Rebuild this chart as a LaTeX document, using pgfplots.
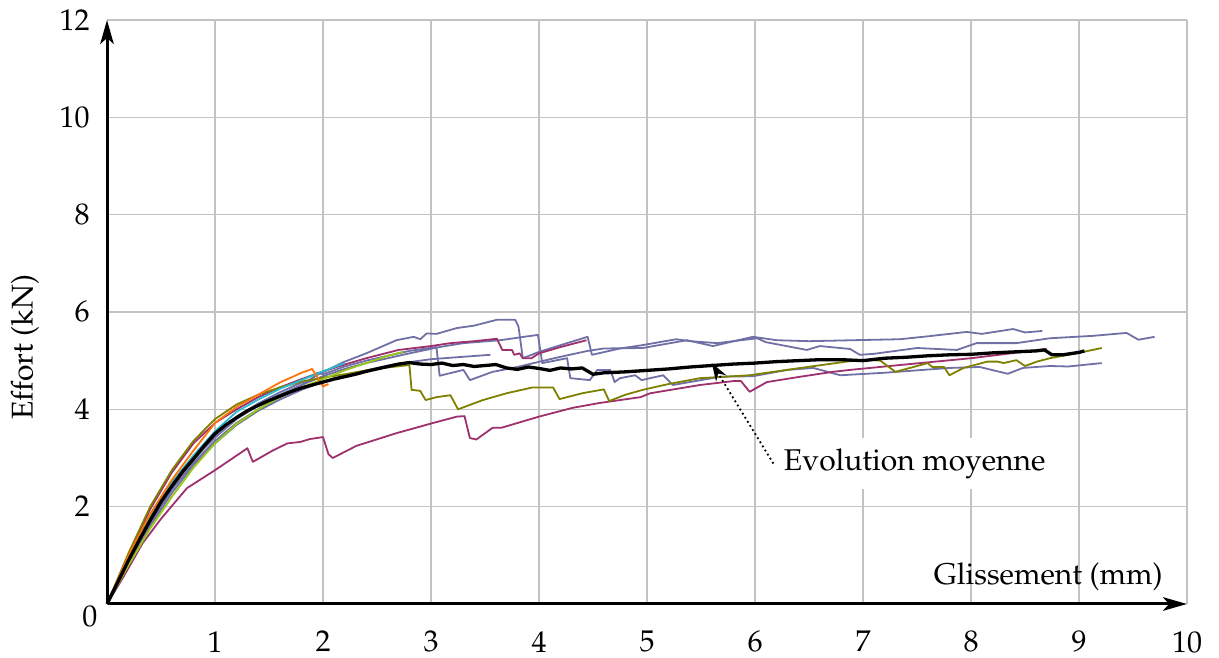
\documentclass[border=0pt]{standalone}
\usepackage[T1]{fontenc}
\usepackage{mathpazo}
\usepackage{pgfplots}
\pgfplotsset{compat=1.18}
\usetikzlibrary{arrows.meta}
\definecolor{cblue}{RGB}{112,112,166}
\definecolor{cmag}{RGB}{158,48,108}
\definecolor{colive}{RGB}{128,128,0}
\definecolor{corange}{RGB}{255,115,10}
\definecolor{ccyan}{RGB}{40,190,205}
\definecolor{cygreen}{RGB}{150,200,20}
\definecolor{cgrid}{RGB}{195,195,195}
\begin{document}
\begin{tikzpicture}
\begin{axis}[
  scale only axis, width=360pt, height=194.67pt,
  xmin=0, xmax=10, ymin=0, ymax=12,
  axis lines*=left,
  axis line style={line width=1pt, -{Stealth[length=8pt,width=4.5pt,inset=2pt]}},
  xtick={1,...,10}, ytick={2,4,...,12},
  major tick length=0pt,
  grid=major, grid style={cgrid, line width=0.4pt},
  xticklabel style={yshift=-5.5pt},
  yticklabel style={xshift=-2.3pt},
  xlabel={Glissement (mm)},
  xlabel style={at={(axis description cs:0.978,0.033)}, anchor=base east, inner sep=0pt},
  ylabel={Effort (kN)},
  ylabel style={at={(axis description cs:-0.076,0.44)}, rotate=0, anchor=center},
  clip=false,
  every axis plot/.append style={line width=0.6pt, line join=round},
]
% blue curves
\addplot[cblue] coordinates {(0,0)(0.2,0.85)(0.4,1.65)(0.6,2.35)(0.8,2.9)(1.0,3.35)(1.2,3.72)(1.4,4.0)(1.6,4.25)(1.8,4.5)(1.94,4.7)(2.19,4.97)(2.4,5.15)(2.68,5.42)(2.84,5.49)(2.9,5.44)(2.96,5.56)(3.05,5.55)(3.24,5.67)(3.4,5.72)(3.61,5.84)(3.78,5.84)(3.81,5.7)(3.85,5.05)(4.0,5.18)(4.26,5.36)(4.45,5.49)(4.49,5.12)(4.75,5.25)(4.96,5.32)(5.27,5.44)(5.4,5.4)(5.65,5.36)(6.02,5.46)(6.1,5.38)(6.48,5.22)(6.6,5.3)(6.88,5.24)(6.97,5.12)(7.1,5.14)(7.5,5.26)(7.87,5.22)(8.05,5.36)(8.42,5.36)(8.73,5.46)(9.13,5.51)(9.44,5.57)(9.55,5.43)(9.7,5.49)};
\addplot[cblue] coordinates {(0,0)(0.2,0.88)(0.4,1.7)(0.6,2.4)(0.8,2.97)(1.0,3.42)(1.2,3.8)(1.4,4.08)(1.6,4.3)(1.8,4.5)(2.0,4.68)(2.2,4.83)(2.4,4.95)(2.6,5.05)(2.8,5.15)(3.08,5.28)(3.3,5.36)(3.64,5.42)(3.99,5.53)(4.03,4.95)(4.26,5.05)(4.29,4.64)(4.47,4.6)(4.54,4.81)(4.66,4.81)(4.7,4.56)(4.75,4.64)(4.89,4.7)(4.95,4.6)(5.15,4.7)(5.24,4.5)(5.68,4.67)(5.98,4.68)(6.3,4.81)(6.54,4.85)(6.79,4.7)(7.19,4.75)(7.8,4.85)(8.08,4.87)(8.34,4.73)(8.48,4.85)(8.73,4.89)(8.9,4.88)(9.21,4.95)};
\addplot[cblue] coordinates {(0,0)(0.2,0.9)(0.4,1.75)(0.6,2.45)(0.8,3.02)(1.0,3.48)(1.2,3.85)(1.4,4.12)(1.6,4.35)(1.8,4.55)(1.9,4.62)(1.95,4.75)(2.0,4.72)(2.2,4.88)(2.4,5.0)(2.6,5.1)(2.8,5.2)(3.05,5.28)(3.08,4.69)(3.3,4.81)(3.36,4.6)(3.57,4.77)(3.8,4.87)(3.95,4.95)(4.2,5.08)(4.45,5.2)(4.6,5.25)(4.96,5.26)(5.37,5.42)(5.61,5.3)(5.98,5.49)(6.2,5.42)(6.5,5.4)(6.91,5.42)(7.34,5.44)(7.6,5.5)(7.96,5.59)(8.1,5.55)(8.39,5.65)(8.5,5.58)(8.66,5.61)};
\addplot[cblue] coordinates {(0,0)(0.2,0.82)(0.4,1.6)(0.6,2.28)(0.8,2.85)(1.0,3.3)(1.2,3.68)(1.4,3.97)(1.6,4.2)(1.8,4.4)(2.0,4.57)(2.2,4.7)(2.4,4.8)(2.6,4.9)(2.8,4.97)(3.0,5.03)(3.3,5.08)(3.55,5.12)};
% magenta curves
\addplot[cmag] coordinates {(0,0)(0.2,1.0)(0.4,1.95)(0.6,2.7)(0.8,3.3)(1.0,3.72)(1.2,4.0)(1.4,4.25)(1.6,4.45)(1.8,4.62)(2.0,4.78)(2.2,4.92)(2.4,5.05)(2.7,5.22)(3.0,5.3)(3.18,5.36)(3.4,5.4)(3.61,5.45)(3.66,5.22)(3.75,5.22)(3.77,5.12)(3.82,5.15)(3.85,5.05)(3.93,5.05)(4.0,5.15)(4.2,5.28)(4.44,5.42)};
\addplot[cmag] coordinates {(0,0)(0.15,0.55)(0.33,1.25)(0.5,1.75)(0.74,2.38)(1.0,2.75)(1.3,3.2)(1.35,2.92)(1.54,3.16)(1.67,3.3)(1.79,3.33)(1.88,3.39)(2.0,3.43)(2.05,3.08)(2.09,3.0)(2.31,3.25)(2.68,3.51)(3.02,3.72)(3.24,3.85)(3.31,3.86)(3.36,3.41)(3.42,3.38)(3.57,3.62)(3.65,3.62)(4.0,3.85)(4.31,4.03)(4.56,4.13)(4.94,4.25)(5.03,4.33)(5.49,4.5)(5.8,4.58)(5.87,4.58)(5.95,4.36)(6.11,4.56)(6.42,4.67)(6.72,4.77)(6.88,4.81)(7.34,4.91)(8.0,5.05)(8.7,5.24)};
% olive
\addplot[colive] coordinates {(0,0)(0.2,1.05)(0.4,2.0)(0.6,2.75)(0.8,3.35)(1.0,3.8)(1.2,4.1)(1.4,4.3)(1.6,4.45)(1.8,4.57)(2.0,4.65)(2.2,4.72)(2.4,4.8)(2.6,4.86)(2.8,4.91)(2.82,4.4)(2.9,4.38)(2.95,4.19)(3.05,4.25)(3.18,4.29)(3.25,4.0)(3.48,4.19)(3.7,4.33)(3.94,4.45)(4.13,4.45)(4.19,4.21)(4.4,4.33)(4.6,4.41)(4.65,4.17)(4.8,4.3)(4.96,4.4)(5.2,4.52)(5.49,4.64)(5.95,4.7)(6.42,4.85)(6.88,4.99)(7.09,5.01)(7.16,5.0)(7.3,4.77)(7.6,4.95)(7.64,4.87)(7.75,4.87)(7.8,4.7)(7.93,4.85)(8.15,4.98)(8.25,4.98)(8.3,4.95)(8.42,5.01)(8.5,4.89)(8.61,4.98)(8.73,5.05)(9.04,5.18)(9.21,5.26)};
% yellow-green
\addplot[cygreen] coordinates {(0,0)(0.2,0.8)(0.4,1.55)(0.6,2.2)(0.8,2.8)(1.0,3.3)(1.2,3.7)(1.4,4.0)(1.6,4.25)(1.8,4.45)(2.0,4.62)(2.2,4.8)(2.4,4.95)(2.6,5.1)(2.74,5.18)};
% cyan
\addplot[ccyan] coordinates {(0,0)(0.2,0.95)(0.4,1.8)(0.6,2.5)(0.8,3.05)(1.0,3.55)(1.2,3.95)(1.4,4.2)(1.6,4.42)(1.8,4.6)(2.0,4.78)(2.2,4.95)};
% orange
\addplot[corange] coordinates {(0,0)(0.2,1.0)(0.4,1.85)(0.6,2.55)(0.8,3.15)(1.0,3.72)(1.2,4.05)(1.4,4.3)(1.6,4.55)(1.8,4.75)(1.9,4.83)(1.95,4.65)(2.0,4.47)(2.05,4.52)};
% mean
\addplot[black, line width=1.1pt] coordinates {(0,0)(0.1,0.45)(0.2,0.9)(0.3,1.32)(0.4,1.72)(0.5,2.1)(0.6,2.42)(0.7,2.72)(0.8,2.98)(0.9,3.25)(1.0,3.5)(1.1,3.68)(1.2,3.83)(1.3,3.97)(1.4,4.08)(1.5,4.18)(1.6,4.27)(1.7,4.36)(1.8,4.44)(1.9,4.5)(2.0,4.56)(2.1,4.62)(2.2,4.67)(2.3,4.72)(2.4,4.78)(2.5,4.83)(2.6,4.88)(2.7,4.93)(2.8,4.96)(2.9,4.93)(3.0,4.92)(3.1,4.95)(3.2,4.9)(3.3,4.92)(3.4,4.88)(3.5,4.9)(3.6,4.92)(3.7,4.85)(3.8,4.82)(3.9,4.87)(4.0,4.84)(4.1,4.8)(4.2,4.85)(4.3,4.83)(4.4,4.85)(4.5,4.72)(4.6,4.75)(4.8,4.77)(5.0,4.8)(5.2,4.83)(5.4,4.87)(5.6,4.9)(5.8,4.93)(6.0,4.95)(6.2,4.98)(6.4,5.0)(6.6,5.02)(6.8,5.02)(7.0,5.0)(7.2,5.05)(7.4,5.07)(7.6,5.1)(7.8,5.12)(8.0,5.13)(8.2,5.16)(8.4,5.18)(8.6,5.2)(8.68,5.22)(8.75,5.12)(8.85,5.12)(9.0,5.17)(9.05,5.2)};
\node[fill=white, anchor=base west, inner sep=0.333em] (ev) at (axis cs:6.17,2.75) {Evolution moyenne};
\draw[densely dotted, line width=0.6pt, -{Stealth[length=6pt,width=4pt]}] (ev.west) -- (axis cs:5.6,4.95);
\node[anchor=north east, inner sep=0pt, xshift=-3pt, yshift=-0.5pt] at (axis cs:0,0) {$0$};
\end{axis}
\pgfresetboundingbox
\path ([shift={(-35.67pt,-18pt)}]current axis.south west) rectangle ++(406.33pt,219.33pt);
\end{tikzpicture}
\end{document}
